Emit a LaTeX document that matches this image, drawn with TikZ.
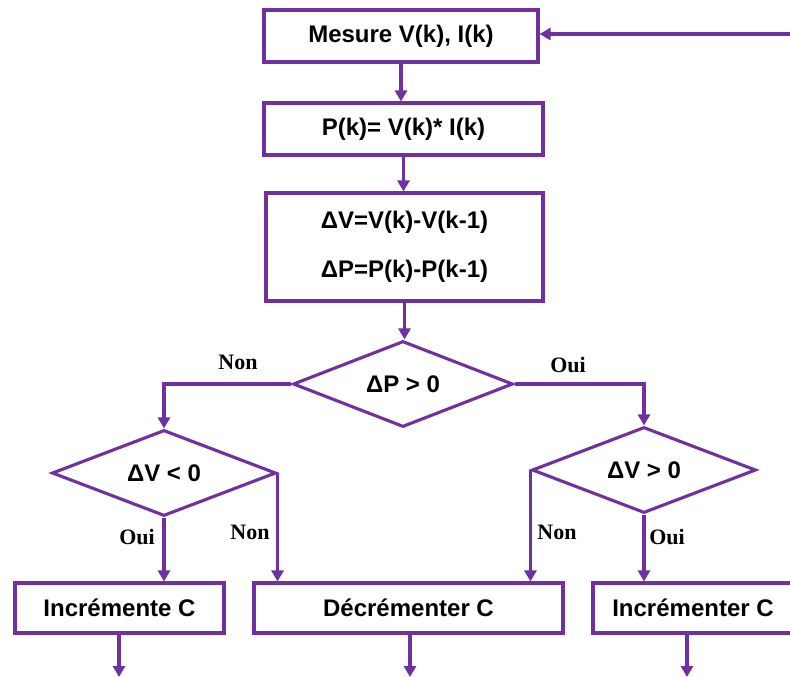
\documentclass[tikz,border=0pt]{standalone}
\usepackage{fontspec}
\setmainfont{Liberation Sans}
\newfontfamily\lblfont{Liberation Serif}
\usetikzlibrary{shapes.geometric,arrows.meta}
\definecolor{flowpurple}{RGB}{112,48,160}
\begin{document}
\begin{tikzpicture}[x=1pt,y=-1pt,
  line/.style={draw=flowpurple,line width=3.1pt},
  arr/.style={line,-{Triangle[width=12pt,length=11pt]}},
  box/.style={draw=flowpurple,line width=3.1pt,fill=white,inner sep=0pt,
    font=\fontsize{24}{29}\selectfont\bfseries,align=center},
  dia/.style={diamond,aspect=2.5,draw=flowpurple,line width=3.1pt,fill=white,
    inner sep=0pt,font=\fontsize{24}{29}\selectfont\bfseries},
  lbl/.style={font=\lblfont\fontsize{22}{26}\selectfont\bfseries,inner sep=0pt}]
\useasboundingbox (0,0) rectangle (790,677);

% process boxes
\node[box,minimum width=274pt,minimum height=52pt] (m) at (401,36) {Mesure V(k), I(k)};
\node[box,minimum width=279pt,minimum height=52pt] (p) at (403.5,129) {P(k)= V(k)* I(k)};
\node[box,minimum width=277pt,minimum height=108pt,
  font=\fontsize{24}{49}\selectfont\bfseries] (d) at (404.5,247)
  {ΔV=V(k)-V(k-1)\\ΔP=P(k)-P(k-1)};

% decisions
\node[dia,minimum width=220pt,minimum height=86pt] (dp) at (403,384) {ΔP > 0};
\node[dia,minimum width=224pt,minimum height=86pt] (dl) at (164,473) {ΔV < 0};
\node[dia,minimum width=224pt,minimum height=86pt] (dr) at (644,470) {ΔV > 0};

% action boxes
\node[box,minimum width=209pt,minimum height=50pt] (a) at (119.5,608) {Incrémente C};
\node[box,minimum width=309pt,minimum height=50pt] (b) at (408.5,608) {Décrémenter C};
\node[box,minimum width=200pt,minimum height=50pt] (c) at (693,608) {Incrémenter C};

% free ends
\coordinate (fb) at (791,34);
\coordinate (ea) at (119,677);
\coordinate (eb) at (410,677);
\coordinate (ec) at (687,677);

% connectors
\draw[arr] (fb) -- (fb -| m.east);
\draw[arr] (m.south) -- (m.south |- p.north);
\draw[arr] (p.south) -- (p.south |- d.north);
\draw[arr] (d.south) -- (d.south |- dp.north);
\draw[arr] (dp.west) -| (dl.north);
\draw[arr] (dp.east) -| (dr.north);
\draw[arr] (dl.south) -- (dl.south |- a.north);
\draw[arr] (dl.east) -- (dl.east |- b.north);
\draw[arr] (dr.west) -- (dr.west |- b.north);
\draw[arr] (dr.south) -- (dr.south |- c.north);
\draw[arr] (a.south -| ea) -- (ea);
\draw[arr] (b.south -| eb) -- (eb);
\draw[arr] (c.south -| ec) -- (ec);

% labels
\node[lbl] (l1) at (238,362) {Non};
\node[lbl] (l2) at (568,365) {Oui};
\node[lbl] (l3) at (137,537) {Oui};
\node[lbl] (l4) at (250,532) {Non};
\node[lbl] (l5) at (557,532) {Non};
\node[lbl] (l6) at (667,537) {Oui};
\end{tikzpicture}
\end{document}
